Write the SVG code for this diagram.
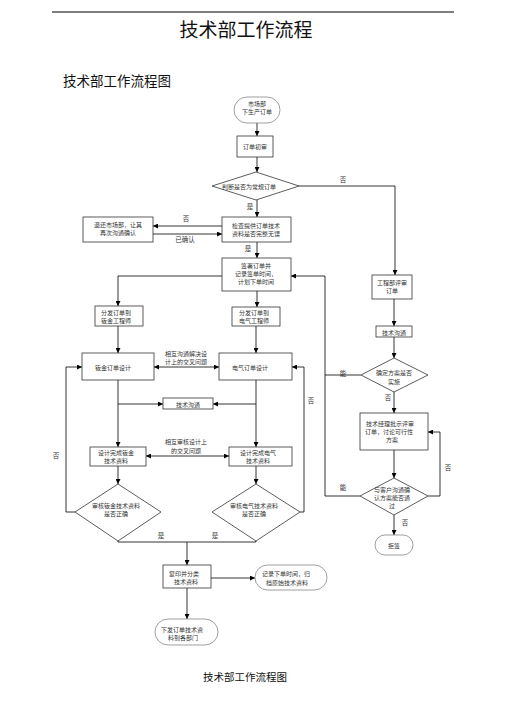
<svg xmlns="http://www.w3.org/2000/svg" width="505" height="714" viewBox="0 0 505 714">
<defs>
<marker id="ah" viewBox="0 0 6 6" refX="6" refY="3" markerWidth="5" markerHeight="5" orient="auto-start-reverse" markerUnits="userSpaceOnUse">
<path d="M0,0 L6,3 L0,6 Z" fill="#000"/>
</marker>
<style>
text{font-family:"Noto Sans CJK SC","Noto Sans CJK TC",sans-serif;fill:#333;text-anchor:middle;dominant-baseline:central}
.n{font-size:6px}
.l{font-size:6.5px}
.box{fill:#fff;stroke:#333;stroke-width:0.8}
.term{fill:#fff;stroke:#777;stroke-width:0.7}
.c{fill:none;stroke:#000;stroke-width:0.8}
.a{marker-end:url(#ah)}
.b{marker-start:url(#ah);marker-end:url(#ah)}
</style>
</defs>
<rect width="505" height="714" fill="#fff"/>
<line x1="52" y1="12" x2="454" y2="12" stroke="#000" stroke-width="1"/>
<text x="246" y="28" style="font-size:19px;fill:#111">技术部工作流程</text>
<text x="63" y="80" style="font-size:13.5px;text-anchor:start;fill:#111">技术部工作流程图</text>
<text x="245" y="676" style="font-size:10.5px;fill:#111">技术部工作流程图</text>

<g id="connectors">
<path class="c a" d="M257,123 V136"/>
<path class="c a" d="M257,157 V172"/>
<path class="c a" d="M299,186 H395 V275"/>
<path class="c a" d="M257,200 V217"/>
<path class="c a" d="M222,226 H153"/>
<path class="c a" d="M153,234 H222"/>
<path class="c a" d="M257,242 V258"/>
<path class="c a" d="M222,276 H118 V306"/>
<path class="c a" d="M257,291 V307"/>
<path class="c a" d="M360,496 H325 V276 H291"/>
<path class="c" d="M361,375 H325"/>
<path class="c a" d="M394,299 V326"/>
<path class="c a" d="M394,337 V358"/>
<path class="c a" d="M394,392 V413"/>
<path class="c a" d="M394,450 V478"/>
<path class="c a" d="M428,496 H440 V432 H428"/>
<path class="c a" d="M394,515 V535"/>
<path class="c a" d="M118,326 V353"/>
<path class="c a" d="M256,326 V353"/>
<path class="c b" d="M154,367 H219"/>
<path class="c a" d="M118,380 V447"/>
<path class="c a" d="M118,404 H163"/>
<path class="c a" d="M256,380 V447"/>
<path class="c a" d="M256,404 H213"/>
<path class="c b" d="M146,456 H229"/>
<path class="c a" d="M118,466 V484"/>
<path class="c a" d="M256,466 V484"/>
<path class="c a" d="M75,512 H66 V367 H82"/>
<path class="c a" d="M300,512 H304 V367 H292"/>
<path class="c" d="M118,541 V542 H256 V541"/>
<path class="c a" d="M187,542 V565"/>
<path class="c a" d="M211,578 H255"/>
<path class="c a" d="M187,588 V619"/>
<text class="l" x="343" y="179">否</text>
<text class="l" x="250" y="206">是</text>
<text class="l" x="186" y="218">否</text>
<text class="l" x="185" y="239">已确认</text>
<text class="l" x="248" y="248">是</text>
<text class="l" x="343" y="373">能</text>
<text class="l" x="388" y="397">否</text>
<text class="l" x="311" y="400">否</text>
<text class="l" x="56" y="455">否</text>
<text class="l" x="448" y="467">否</text>
<text class="l" x="343" y="487">能</text>
<text class="l" x="405" y="522">否</text>
<text class="l" x="161" y="535">是</text>
<text class="l" x="215" y="535">是</text>
<text class="n" x="186" y="353">相互沟通解决设</text>
<text class="n" x="186" y="361">计上的交叉问题</text>
<text class="n" x="186" y="441">相互审核设计上</text>
<text class="n" x="186" y="450">的交叉问题</text>
</g>

<g id="n1"><rect class="term" x="234" y="97" width="46" height="26" rx="13"/><text class="n" x="257" y="103">市场部</text><text class="n" x="257" y="111">下生产订单</text></g>
<g id="n2"><rect class="box" x="237" y="136" width="36" height="21"/><text class="n" x="255" y="146">订单初审</text></g>
<g id="n3"><polygon class="box" points="256,172 299,186 256,200 212,186"/><text class="n" x="249" y="186">判断是否为常规订单</text></g>
<g id="n4"><rect class="box" x="222" y="217" width="69" height="25"/><text class="n" x="256" y="225">检查提供订单技术</text><text class="n" x="256" y="233">资料是否完整无误</text></g>
<g id="n5"><rect class="box" x="83" y="217" width="70" height="25"/><text class="n" x="118" y="224">退还市场部，让其</text><text class="n" x="118" y="232">再次沟通确认</text></g>
<g id="n6"><rect class="box" x="222" y="258" width="69" height="33"/><text class="n" x="256" y="265">签署订单并</text><text class="n" x="256" y="273">记录签单时间，</text><text class="n" x="256" y="281">计划下单时间</text></g>
<g id="n7"><rect class="box" x="95" y="306" width="48" height="20"/><text class="n" x="116" y="312">分发订单到</text><text class="n" x="116" y="320">钣金工程师</text></g>
<g id="n8"><rect class="box" x="232" y="307" width="48" height="19"/><text class="n" x="254" y="312">分发订单到</text><text class="n" x="254" y="320">电气工程师</text></g>
<g id="n9"><rect class="box" x="82" y="353" width="72" height="27"/><text class="n" x="113" y="367">钣金订单设计</text></g>
<g id="n10"><rect class="box" x="219" y="353" width="73" height="27"/><text class="n" x="250" y="367">电气订单设计</text></g>
<g id="n11"><rect class="box" x="163" y="398" width="50" height="11"/><text class="n" x="188" y="404">技术沟通</text></g>
<g id="n12"><rect class="box" x="90" y="447" width="56" height="19"/><text class="n" x="116" y="452">设计完成钣金</text><text class="n" x="116" y="460">技术资料</text></g>
<g id="n13"><rect class="box" x="229" y="447" width="63" height="19"/><text class="n" x="258" y="452">设计完成电气</text><text class="n" x="258" y="460">技术资料</text></g>
<g id="n14"><polygon class="box" points="118,484 161,512 118,541 75,512"/><text class="n" x="116" y="505">审核钣金技术资料</text><text class="n" x="116" y="513">是否正确</text></g>
<g id="n15"><polygon class="box" points="256,484 300,512 256,541 212,512"/><text class="n" x="254" y="505">审核电气技术资料</text><text class="n" x="254" y="513">是否正确</text></g>
<g id="n16"><rect class="box" x="163" y="565" width="48" height="23"/><text class="n" x="184" y="573">复印并分类</text><text class="n" x="186" y="581">技术资料</text></g>
<g id="n17"><rect class="term" x="255" y="565" width="72" height="25" rx="12.5"/><text class="n" x="286" y="573">记录下单时间，归</text><text class="n" x="287" y="582">档原始技术资料</text></g>
<g id="n18"><rect class="term" x="155" y="619" width="63" height="26" rx="13"/><text class="n" x="182" y="629">下发订单技术资</text><text class="n" x="183" y="637">料到各部门</text></g>
<g id="n19"><rect class="box" x="372" y="275" width="40" height="24"/><text class="n" x="392" y="282">工程部评审</text><text class="n" x="392" y="290">订单</text></g>
<g id="n20"><rect class="box" x="376" y="326" width="36" height="11"/><text class="n" x="394" y="332">技术沟通</text></g>
<g id="n21"><polygon class="box" points="394,358 428,375 394,392 361,375"/><text class="n" x="394" y="372">确定方案是否</text><text class="n" x="394" y="381">实施</text></g>
<g id="n22"><rect class="box" x="360" y="413" width="68" height="37"/><text class="n" x="390" y="423">技术经理批示评审</text><text class="n" x="389" y="431">订单，讨论可行性</text><text class="n" x="392" y="439">方案</text></g>
<g id="n23"><polygon class="box" points="394,478 428,496 394,515 360,496"/><text class="n" x="392" y="489">与客户沟通确</text><text class="n" x="392" y="497">认方案能否通</text><text class="n" x="392" y="505">过</text></g>
<g id="n24"><rect class="term" x="375" y="535" width="38" height="20" rx="10"/><text class="n" x="394" y="545">拒签</text></g>
</svg>
